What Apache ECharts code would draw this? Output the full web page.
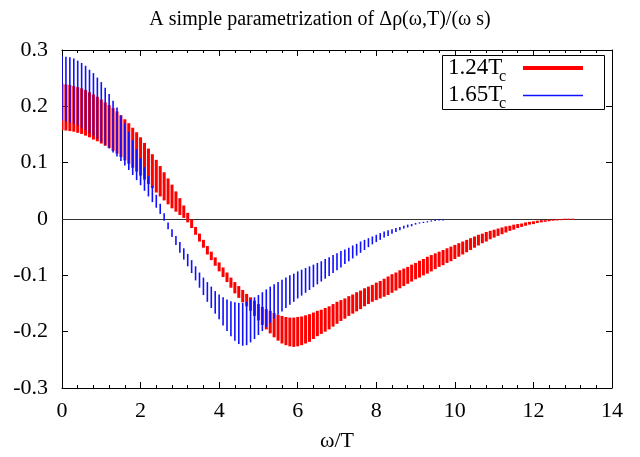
<!DOCTYPE html>
<html>
<head>
<meta charset="utf-8">
<script src="https://cdn.jsdelivr.net/npm/echarts@6/dist/echarts.min.js"></script>
<style>
  html, body { margin: 0; padding: 0; background: #fff; }
  #chart { width: 640px; height: 457px; }
</style>
</head>
<body>
<div id="chart"></div>
<script>
// omega/T grid: bars every 0.1 starting at 0
const OMEGA_START = 0;
const OMEGA_STEP = 0.1;

// 1.24 Tc band (upper / lower end of each bar), omega/T = 0 .. 13
const red124Hi = [
  0.240, 0.239, 0.238, 0.236, 0.234, 0.232, 0.229, 0.225, 0.221, 0.217,
  0.212, 0.207, 0.202, 0.197, 0.191, 0.184, 0.177, 0.170, 0.162, 0.154,
  0.145, 0.135, 0.125, 0.115, 0.105, 0.094, 0.083, 0.072, 0.061, 0.049,
  0.037, 0.024, 0.011, -0.001, -0.014, -0.026, -0.037, -0.048, -0.058, -0.068,
  -0.077, -0.086, -0.095, -0.104, -0.112, -0.119, -0.126, -0.133, -0.139, -0.145,
  -0.151, -0.156, -0.160, -0.163, -0.167, -0.170, -0.172, -0.174, -0.175, -0.175,
  -0.174, -0.173, -0.171, -0.169, -0.166, -0.163, -0.161, -0.158, -0.155, -0.151,
  -0.147, -0.144, -0.141, -0.137, -0.134, -0.130, -0.127, -0.123, -0.120, -0.117,
  -0.113, -0.110, -0.106, -0.102, -0.098, -0.095, -0.091, -0.088, -0.085, -0.081,
  -0.078, -0.074, -0.071, -0.067, -0.064, -0.061, -0.058, -0.055, -0.052, -0.049,
  -0.046, -0.043, -0.040, -0.037, -0.034, -0.031, -0.028, -0.026, -0.023, -0.021,
  -0.019, -0.017, -0.015, -0.013, -0.012, -0.010, -0.009, -0.008, -0.006, -0.005,
  -0.004, -0.003, -0.002, -0.002, -0.001, -0.001, -0.001, 0.000, 0.000, 0.000,
  0.000
];
const red124Lo = [
  0.158, 0.157, 0.156, 0.155, 0.153, 0.151, 0.148, 0.145, 0.141, 0.138,
  0.134, 0.130, 0.126, 0.121, 0.116, 0.110, 0.104, 0.098, 0.091, 0.084,
  0.077, 0.070, 0.062, 0.055, 0.047, 0.040, 0.033, 0.026, 0.019, 0.013,
  0.007, 0.002, -0.006, -0.016, -0.028, -0.040, -0.051, -0.063, -0.073, -0.083,
  -0.093, -0.103, -0.112, -0.122, -0.132, -0.140, -0.148, -0.155, -0.163, -0.172,
  -0.180, -0.188, -0.196, -0.203, -0.210, -0.216, -0.221, -0.224, -0.226, -0.227,
  -0.226, -0.224, -0.221, -0.218, -0.213, -0.208, -0.204, -0.200, -0.196, -0.191,
  -0.186, -0.181, -0.177, -0.172, -0.168, -0.164, -0.160, -0.155, -0.151, -0.147,
  -0.144, -0.141, -0.138, -0.135, -0.131, -0.127, -0.123, -0.119, -0.115, -0.111,
  -0.107, -0.104, -0.100, -0.097, -0.093, -0.089, -0.085, -0.082, -0.078, -0.075,
  -0.071, -0.067, -0.063, -0.059, -0.055, -0.051, -0.047, -0.043, -0.040, -0.036,
  -0.033, -0.030, -0.027, -0.024, -0.021, -0.019, -0.016, -0.014, -0.012, -0.010,
  -0.009, -0.007, -0.006, -0.005, -0.004, -0.003, -0.002, -0.002, -0.001, -0.001,
  -0.001
];

// 1.65 Tc band, omega/T = 0 .. 9.7
const blue165Hi = [
  0.290, 0.288, 0.287, 0.285, 0.281, 0.277, 0.272, 0.265, 0.259, 0.251,
  0.243, 0.233, 0.222, 0.210, 0.198, 0.184, 0.170, 0.155, 0.140, 0.124,
  0.108, 0.092, 0.076, 0.059, 0.043, 0.027, 0.010, -0.006, -0.018, -0.030,
  -0.041, -0.052, -0.062, -0.073, -0.084, -0.095, -0.104, -0.112, -0.120, -0.128,
  -0.134, -0.139, -0.143, -0.146, -0.148, -0.149, -0.149, -0.147, -0.143, -0.139,
  -0.135, -0.130, -0.125, -0.120, -0.116, -0.112, -0.108, -0.104, -0.100, -0.097,
  -0.093, -0.090, -0.087, -0.084, -0.081, -0.078, -0.075, -0.071, -0.068, -0.064,
  -0.061, -0.057, -0.054, -0.051, -0.047, -0.044, -0.040, -0.037, -0.034, -0.031,
  -0.028, -0.025, -0.022, -0.020, -0.018, -0.016, -0.014, -0.012, -0.010, -0.009,
  -0.007, -0.006, -0.005, -0.004, -0.003, -0.002, -0.001, -0.001
];
const blue165Lo = [
  0.175, 0.173, 0.171, 0.169, 0.166, 0.162, 0.158, 0.153, 0.148, 0.143,
  0.137, 0.131, 0.125, 0.118, 0.111, 0.103, 0.095, 0.087, 0.078, 0.069,
  0.060, 0.050, 0.040, 0.030, 0.020, 0.009, -0.003, -0.018, -0.032, -0.046,
  -0.060, -0.072, -0.084, -0.096, -0.109, -0.122, -0.135, -0.147, -0.158, -0.168,
  -0.178, -0.189, -0.199, -0.208, -0.216, -0.222, -0.225, -0.224, -0.219, -0.213,
  -0.206, -0.199, -0.192, -0.184, -0.177, -0.170, -0.164, -0.158, -0.152, -0.147,
  -0.141, -0.136, -0.131, -0.126, -0.121, -0.116, -0.111, -0.106, -0.101, -0.096,
  -0.091, -0.086, -0.080, -0.075, -0.070, -0.065, -0.060, -0.055, -0.050, -0.045,
  -0.041, -0.037, -0.033, -0.030, -0.026, -0.023, -0.020, -0.017, -0.015, -0.013,
  -0.010, -0.008, -0.007, -0.006, -0.004, -0.003, -0.002, -0.002
];

const xTicks = { min: 0, max: 14, interval: 2 };
const yTicks = { min: -0.3, max: 0.3, interval: 0.1 };

const FONT = '"Liberation Serif", "DejaVu Serif", serif';
const FS = 22;

function buildRows (hi, lo) {
  const rows = [];
  for (let i = 0; i < hi.length; i++) {
    rows.push([+(OMEGA_START + i * OMEGA_STEP).toFixed(2), hi[i], lo[i]]);
  }
  return rows;
}

// vertical error bar drawn through the axis scales
function barRenderer (color, width) {
  return function (params, api) {
    const top = api.coord([api.value(0), api.value(1)]);
    const bot = api.coord([api.value(0), api.value(2)]);
    const raw = bot[1] - top[1];
    const h = Math.max(raw, 1.2);
    return {
      type: 'rect',
      shape: { x: top[0] - width / 2, y: top[1] - (h - raw) / 2, width: width, height: h },
      style: { fill: color }
    };
  };
}

const chart = echarts.init(document.getElementById('chart'), null, { renderer: 'canvas' });

const axisCommon = {
  axisLine: { show: true, onZero: false, lineStyle: { color: '#000', width: 1 } },
  axisTick: { show: true, inside: true, length: 6, lineStyle: { color: '#000' } },
  splitLine: { show: false }
};

chart.setOption({
  backgroundColor: '#fff',
  animation: false,
  title: {
    text: 'A simple parametrization of Δρ(ω,T)/(ω s)',
    left: 'center',
    top: 5,
    textStyle: { fontFamily: FONT, fontSize: 20, fontWeight: 'normal', color: '#000' }
  },
  grid: { left: 62, right: 28, top: 50, bottom: 69, containLabel: false },
  xAxis: [{
    type: 'value',
    min: xTicks.min, max: xTicks.max, interval: xTicks.interval,
    position: 'bottom',
    name: 'ω/T',
    nameLocation: 'middle',
    nameGap: 42,
    nameTextStyle: { fontFamily: FONT, fontSize: FS, color: '#000' },
    axisLabel: { margin: 12, fontFamily: FONT, fontSize: FS, color: '#000' },
    minorTick: { show: true, splitNumber: 5, length: 3, lineStyle: { color: '#000' } },
    ...axisCommon
  }, {
    type: 'value',
    min: xTicks.min, max: xTicks.max, interval: xTicks.interval,
    position: 'top',
    axisLabel: { show: false },
    minorTick: { show: true, splitNumber: 5, length: 3, lineStyle: { color: '#000' } },
    ...axisCommon
  }],
  yAxis: [{
    type: 'value',
    min: yTicks.min, max: yTicks.max, interval: yTicks.interval,
    position: 'left',
    axisLabel: {
      margin: 14, fontFamily: FONT, fontSize: FS, color: '#000',
      formatter: v => String(Math.round(v * 10) / 10)
    },
    ...axisCommon
  }, {
    type: 'value',
    min: yTicks.min, max: yTicks.max, interval: yTicks.interval,
    position: 'right',
    axisLabel: { show: false },
    ...axisCommon
  }],
  series: [{
    name: '1.24Tc',
    type: 'custom',
    xAxisIndex: 0,
    yAxisIndex: 0,
    clip: true,
    renderItem: barRenderer('#ff0000', 3),
    encode: { x: 0, y: [1, 2] },
    data: buildRows(red124Hi, red124Lo),
    z: 2,
    markLine: {
      silent: true,
      symbol: 'none',
      label: { show: false },
      lineStyle: { color: '#333', width: 1, type: 'solid' },
      data: [{ yAxis: 0 }],
      z: 1
    }
  }, {
    name: '1.65Tc',
    type: 'custom',
    xAxisIndex: 0,
    yAxisIndex: 0,
    clip: true,
    renderItem: barRenderer('#1010ff', 1.6),
    encode: { x: 0, y: [1, 2] },
    data: buildRows(blue165Hi, blue165Lo),
    z: 3
  }],
  graphic: [
    { type: 'rect', shape: { x: 442.5, y: 55.5, width: 162, height: 54 },
      style: { fill: '#fff', stroke: '#000', lineWidth: 1 }, z: 10 },
    { type: 'text', x: 448, y: 68, style: { text: '1.24T', fontFamily: FONT, fontSize: 23, fill: '#000', textVerticalAlign: 'middle' }, z: 11 },
    { type: 'text', x: 499, y: 77, style: { text: 'c', fontFamily: FONT, fontSize: 16, fill: '#000', textVerticalAlign: 'middle' }, z: 11 },
    { type: 'text', x: 448, y: 95, style: { text: '1.65T', fontFamily: FONT, fontSize: 23, fill: '#000', textVerticalAlign: 'middle' }, z: 11 },
    { type: 'text', x: 499, y: 104, style: { text: 'c', fontFamily: FONT, fontSize: 16, fill: '#000', textVerticalAlign: 'middle' }, z: 11 },
    { type: 'line', shape: { x1: 523, y1: 68, x2: 583, y2: 68 }, style: { stroke: '#ff0000', lineWidth: 4 }, z: 11 },
    { type: 'line', shape: { x1: 523, y1: 95.5, x2: 583, y2: 95.5 }, style: { stroke: '#1010ff', lineWidth: 1.5 }, z: 11 }
  ]
});
</script>
</body>
</html>
